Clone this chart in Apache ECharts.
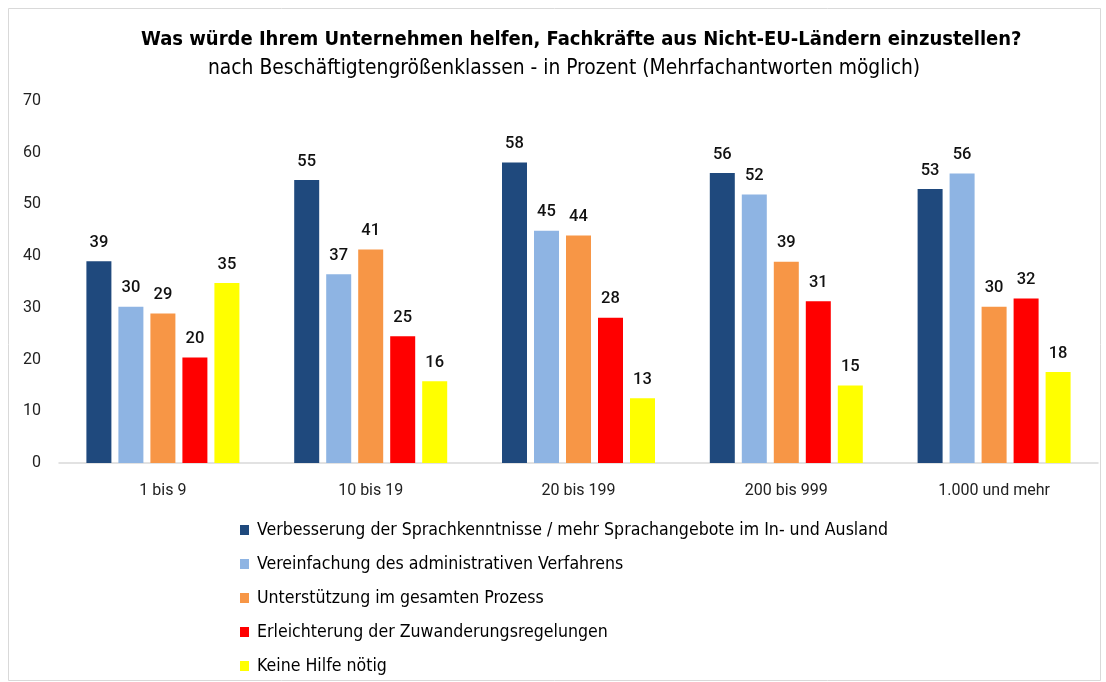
<!DOCTYPE html>
<html>
<head>
<meta charset="utf-8">
<script src="https://cdn.jsdelivr.net/npm/echarts@6/dist/echarts.min.js"></script>
<style>html,body{margin:0;padding:0;background:#fff}#c{width:1106px;height:682px}</style>
</head>
<body>
<div id="c"></div>
<script>
const categories = ['1 bis 9', '10 bis 19', '20 bis 199', '200 bis 999', '1.000 und mehr'];
const seriesNames = [
  'Verbesserung der Sprachkenntnisse / mehr Sprachangebote im In- und Ausland',
  'Vereinfachung des administrativen Verfahrens',
  'Unterstützung im gesamten Prozess',
  'Erleichterung der Zuwanderungsregelungen',
  'Keine Hilfe nötig'
];
const sprache = [39.0, 54.7, 58.1, 56.1, 53.0];
const verfahren = [30.2, 36.5, 44.9, 51.9, 56.0];
const prozess = [28.9, 41.3, 44.0, 38.9, 30.2];
const zuwanderung = [20.4, 24.5, 28.1, 31.3, 31.8];
const keineHilfe = [34.8, 15.8, 12.5, 15.0, 17.6];
const yTicks = [0, 10, 20, 30, 40, 50, 60, 70];
const colors = ['#1F497D', '#8EB4E3', '#F79646', '#FF0000', '#FFFF00'];

const values = [sprache, verfahren, prozess, zuwanderung, keineHilfe];
const narrow = '"Liberation Sans Narrow", "DejaVu Sans Condensed", sans-serif';

const chart = echarts.init(document.getElementById('c'));
chart.setOption({
  animation: false,
  backgroundColor: '#fff',
  graphic: [{
    type: 'rect', shape: { x: 8.5, y: 8.5, width: 1092, height: 672 },
    style: { fill: 'none', stroke: '#d9d9d9', lineWidth: 1 }, silent: true
  }],
  title: [{
    text: 'Was würde Ihrem Unternehmen helfen, Fachkräfte aus Nicht-EU-Ländern einzustellen?',
    left: 136, top: 25,
    textStyle: { fontFamily: narrow, fontWeight: 'bold', fontSize: 20, color: '#000' }
  }, {
    text: 'nach Beschäftigtengrößenklassen - in Prozent (Mehrfachantworten möglich)',
    left: 203, top: 53,
    textStyle: { fontFamily: narrow, fontWeight: 'normal', fontSize: 20.8, color: '#000' }
  }],
  legend: {
    orient: 'vertical', left: 235, top: 516, itemGap: 16,
    itemWidth: 9, itemHeight: 10, icon: 'rect',
    textStyle: { fontFamily: narrow, fontSize: 17.6, color: '#000', padding: [0, 0, 0, 3] },
    data: seriesNames
  },
  grid: { left: 59, right: 8, top: 101, bottom: 219, containLabel: false },
  xAxis: {
    type: 'category', data: categories,
    axisLine: { lineStyle: { color: '#d9d9d9', width: 1.5 } },
    axisTick: { show: false },
    axisLabel: { color: '#222', fontFamily: 'Roboto, sans-serif', fontSize: 16, margin: 20 }
  },
  yAxis: {
    type: 'value', min: yTicks[0], max: yTicks[yTicks.length - 1], interval: 10,
    splitLine: { show: false },
    axisLine: { show: false }, axisTick: { show: false },
    axisLabel: { color: '#222', fontFamily: 'Roboto, sans-serif', fontSize: 16, margin: 18 }
  },
  series: values.map((v, i) => ({
    name: seriesNames[i], type: 'bar', data: v,
    barWidth: 25, barGap: '28%', barCategoryGap: '26%',
    itemStyle: { color: colors[i] },
    label: {
      show: true, position: 'top', distance: 10,
      fontFamily: 'Roboto, sans-serif', fontWeight: 500, fontSize: 16.5, color: '#111',
      formatter: p => Math.round(p.value)
    }
  }))
});
</script>
</body>
</html>
